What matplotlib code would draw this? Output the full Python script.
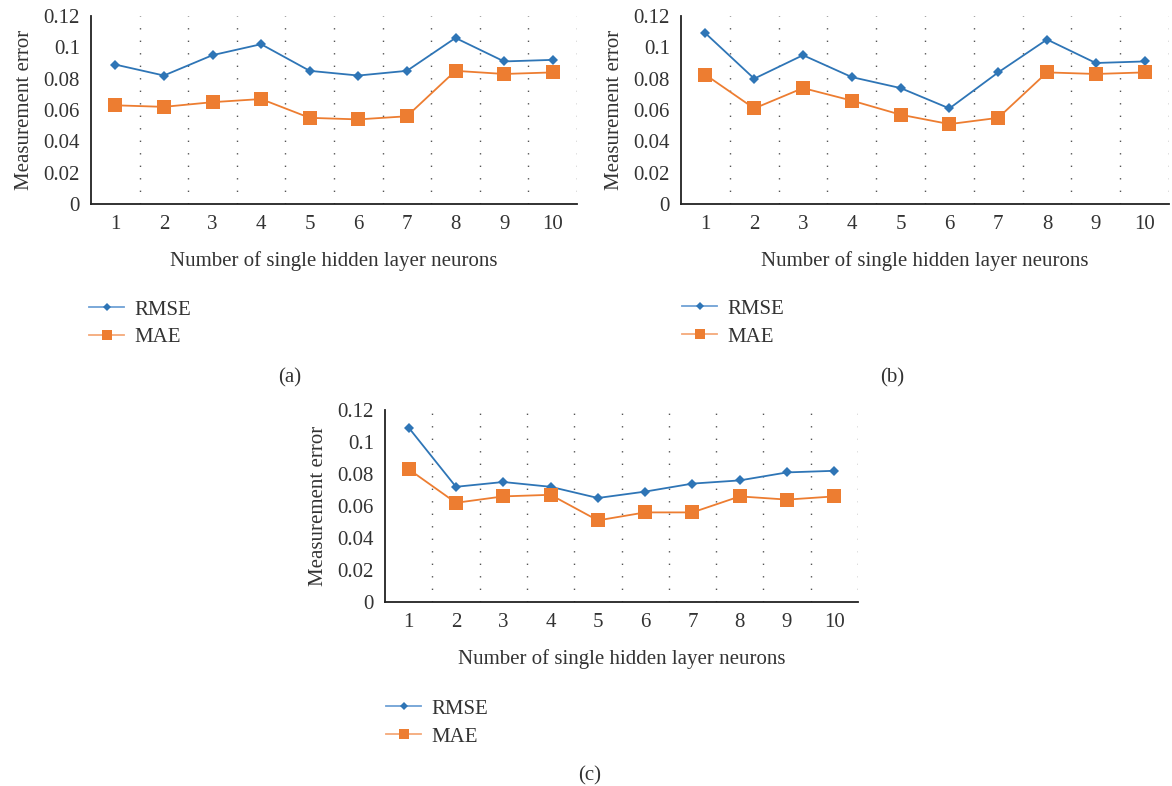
import matplotlib.pyplot as plt
from matplotlib.lines import Line2D

plt.rcParams["font.family"] = ["Liberation Serif", "DejaVu Serif"]
plt.rcParams["font.size"] = 15

neurons = [1, 2, 3, 4, 5, 6, 7, 8, 9, 10]

rmse_a = [0.089, 0.082, 0.095, 0.102, 0.085, 0.082, 0.085, 0.106, 0.091, 0.092]
mae_a = [0.063, 0.062, 0.065, 0.067, 0.055, 0.054, 0.056, 0.085, 0.083, 0.084]

rmse_b = [0.109, 0.080, 0.095, 0.081, 0.074, 0.061, 0.084, 0.105, 0.090, 0.091]
mae_b = [0.0825, 0.061, 0.074, 0.066, 0.057, 0.051, 0.055, 0.084, 0.083, 0.084]

rmse_c = [0.109, 0.072, 0.075, 0.072, 0.065, 0.069, 0.074, 0.076, 0.081, 0.082]
mae_c = [0.083, 0.062, 0.066, 0.067, 0.051, 0.056, 0.056, 0.066, 0.064, 0.066]

yticks = [0, 0.02, 0.04, 0.06, 0.08, 0.1, 0.12]
yticklabels = ["0", "0.02", "0.04", "0.06", "0.08", "0.1", "0.12"]

BLUE = "#2e75b6"
ORANGE = "#ed7d31"
TEXT = "#333333"

W, H = 1172, 786
fig = plt.figure(figsize=(W / 100, H / 100), dpi=100)


def px_axes(left, right, top, bottom):
    return fig.add_axes([left / W, 1 - bottom / H, (right - left) / W, (bottom - top) / H])


def draw_panel(ax, rmse, mae, legend_xy, tag, tag_xy):
    # dotted separators between the categories
    for xb in [n + 0.5 for n in neurons]:
        ax.axvline(xb, color="#555555", lw=1.0, ls=(0, (1, 8)), zorder=0)
    ax.plot(neurons, rmse, color=BLUE, lw=1.3, marker="D", ms=5.5,
            markeredgewidth=0, label="RMSE", zorder=3)
    ax.plot(neurons, mae, color=ORANGE, lw=1.3, marker="s", ms=10,
            markeredgewidth=0, label="MAE", zorder=3)
    ax.set_xlim(0.5, 10.5)
    ax.set_ylim(0, 0.12)
    ax.set_xticks(neurons)
    ax.set_yticks(yticks)
    ax.set_yticklabels(yticklabels)
    ax.tick_params(length=0, colors=TEXT, labelsize=15)
    ax.tick_params(axis="x", pad=8)
    ax.tick_params(axis="y", pad=8)
    for side in ("top", "right"):
        ax.spines[side].set_visible(False)
    for side in ("left", "bottom"):
        ax.spines[side].set_color("#222222")
        ax.spines[side].set_linewidth(1.3)
    ax.set_xlabel("Number of single hidden layer neurons", color=TEXT, labelpad=12)
    ax.set_ylabel("Measurement error", color=TEXT, labelpad=7)

    handles = [
        Line2D([], [], color="#6fa1d6", lw=1.3, marker="D", ms=4.5, mfc=BLUE, mew=0),
        Line2D([], [], color="#f4a97a", lw=1.3, marker="s", ms=6.5, mfc=ORANGE, mew=0),
    ]
    fig.legend(handles, ["RMSE", "MAE"], loc="upper left",
               bbox_to_anchor=(legend_xy[0] / W, 1 - legend_xy[1] / H),
               frameon=False, handlelength=1.7, handletextpad=0.5,
               labelspacing=0.4, borderpad=0, borderaxespad=0,
               labelcolor=TEXT, fontsize=15)
    fig.text(tag_xy[0] / W, 1 - tag_xy[1] / H, tag, ha="center", va="center",
             color=TEXT, fontsize=15)


ax_a = px_axes(91, 577, 16, 204)
draw_panel(ax_a, rmse_a, mae_a, (89, 300), "(a)", (290, 378))

ax_b = px_axes(681, 1169, 16, 204)
draw_panel(ax_b, rmse_b, mae_b, (682, 299), "(b)", (892, 378))

ax_c = px_axes(385, 858, 410, 602)
draw_panel(ax_c, rmse_c, mae_c, (386, 699), "(c)", (590, 776))

fig.savefig("out.png", dpi=100)
